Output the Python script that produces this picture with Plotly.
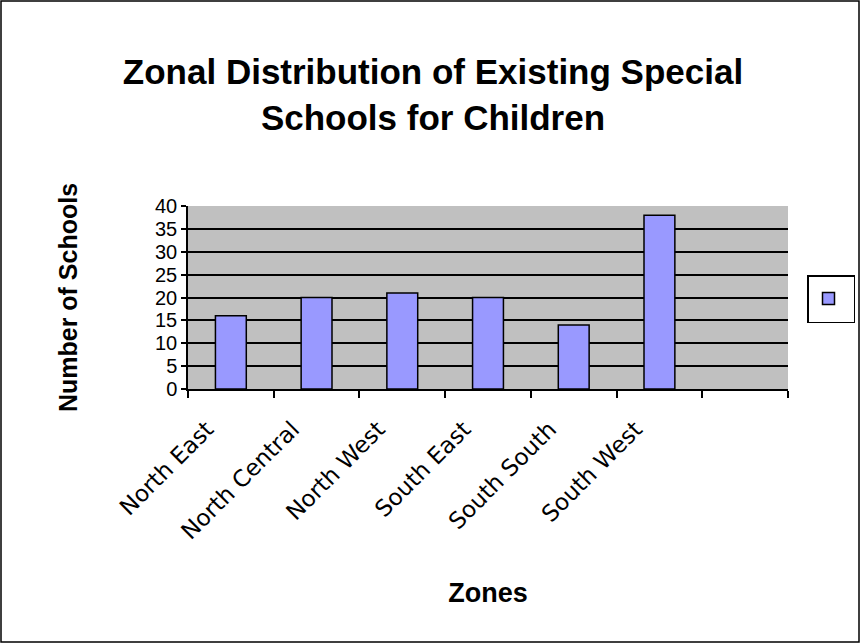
import plotly.graph_objects as go

# chart data
zones = ["North East", "North Central", "North West", "South East", "South South", "South West"]
schools = [16, 20, 21, 20, 14, 38]
y_ticks = [0, 5, 10, 15, 20, 25, 30, 35, 40]

W, H = 861, 644
ML, MR, MT, MB = 188, 73, 206, 255
PW, PH = W - ML - MR, H - MT - MB

fig = go.Figure()
fig.add_trace(
    go.Bar(
        x=list(range(len(zones))),
        y=schools,
        name="\u200b",
        width=0.36,
        marker=dict(color="#9999FF", line=dict(color="black", width=1.5)),
        showlegend=True,
    )
)

fig.update_layout(
    width=W,
    height=H,
    margin=dict(l=ML, r=MR, t=MT, b=MB, autoexpand=False),
    paper_bgcolor="white",
    plot_bgcolor="#C0C0C0",
    font=dict(family="Liberation Sans, Arial, sans-serif", color="black"),
    title=dict(
        text="<b>Zonal Distribution of Existing Special<br>Schools for Children</b>",
        x=433 / W,
        xanchor="center",
        y=1 - 84 / H,
        yanchor="middle",
        font=dict(size=35),
    ),
    showlegend=True,
    legend=dict(
        x=(807 - ML) / PW,
        y=(389 - 275) / PH,
        xanchor="left",
        yanchor="top",
        bordercolor="black",
        borderwidth=1.5,
        bgcolor="white",
        itemwidth=30,
        font=dict(size=24),
    ),
)

fig.update_xaxes(
    range=[-0.5, 6.5],
    tickvals=list(range(len(zones))),
    ticktext=zones,
    tickangle=-45,
    ticks="",
    tickfont=dict(family="DejaVu Sans, sans-serif", size=23),
    ticklabelstandoff=16,
    ticklabelshift=-24,
    showgrid=False,
    showline=True,
    linecolor="black",
    linewidth=1.5,
    zeroline=False,
    minor=dict(ticks="outside", tick0=0.5, dtick=1, ticklen=7, tickcolor="black", tickwidth=1.5, showgrid=False),
    title=dict(text="<b>Zones</b>", font=dict(size=27), standoff=40),
)
fig.update_yaxes(
    range=[0, 40],
    tickvals=y_ticks,
    ticks="outside",
    ticklen=5,
    tickwidth=1.5,
    tickcolor="black",
    tickfont=dict(size=20),
    showgrid=True,
    gridcolor="black",
    gridwidth=1.5,
    showline=True,
    linecolor="black",
    linewidth=1.5,
    zeroline=False,
    title=dict(text="<b>Number of Schools</b>", font=dict(size=25), standoff=70),
)

# outer chart border
fig.add_shape(
    type="rect", xref="paper", yref="paper",
    x0=(1 - ML) / PW, x1=(W - 2 - ML) / PW,
    y0=(MT + PH - (H - 2)) / PH, y1=(MT + PH - 1) / PH,
    line=dict(color="black", width=1.5), fillcolor="rgba(0,0,0,0)", layer="below",
)

# drop the page's default body margin so the chart sits at the window origin
fig.write_html(
    "out.html",
    config={"displayModeBar": False},
    post_script="document.body.style.margin='0';",
)
